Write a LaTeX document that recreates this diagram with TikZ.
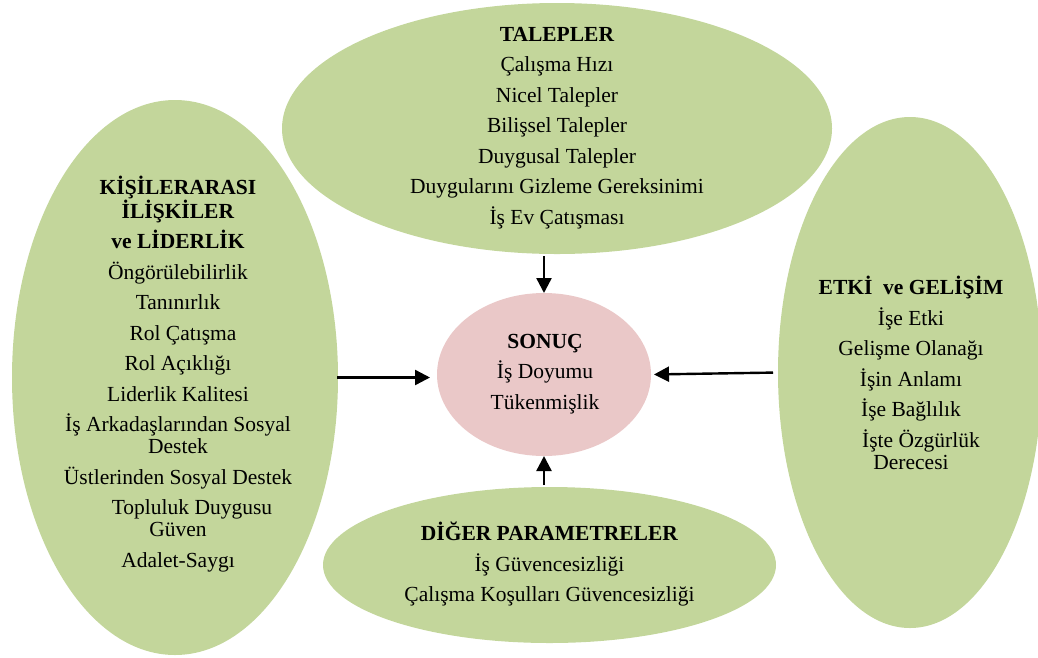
\documentclass[tikz,border=0pt]{standalone}
\usepackage{fontspec}
\setmainfont{Liberation Serif}
\usetikzlibrary{shapes.geometric,arrows.meta}
\definecolor{leaf}{HTML}{C3D69B}
\definecolor{rose}{HTML}{EAC8C8}
\begin{document}
\begin{tikzpicture}[x=1pt,y=-1pt,
  blob/.style={ellipse,fill=leaf,draw=none,inner sep=0pt,outer sep=0pt},
  txt/.style={align=center,font=\fontsize{21.5}{30.5}\selectfont,inner sep=0pt},
  link/.style={line width=2.4pt,-{Triangle[length=15pt,width=15pt]}}]
\useasboundingbox (0,0) rectangle (1038,657);
% shapes
\node[blob,minimum width=550pt,minimum height=251pt] (top) at (557,128.5) {};
\node[blob,minimum width=326pt,minimum height=555pt] (left) at (175,377.5) {};
\node[blob,minimum width=264pt,minimum height=511pt] (right) at (910,372.5) {};
\node[blob,minimum width=453pt,minimum height=156pt] (bottom) at (549.5,565) {};
\node[blob,fill=rose,minimum width=214pt,minimum height=163pt] (mid) at (544,374.5) {};
% texts
\node[txt] (toptext) at (557,128) {\textbf{TALEPLER}\\Çalışma Hızı\\Nicel Talepler\\Bilişsel Talepler\\Duygusal Talepler\\Duygularını Gizleme Gereksinimi\\İş Ev Çatışması};
\node[txt] (lefttext) at (178,374) {\textbf{KİŞİLERARASI}\\[-6.5pt]\textbf{İLİŞKİLER}\\\textbf{ve LİDERLİK}\\Öngörülebilirlik\\Tanınırlık\\\hspace*{10pt}Rol Çatışma\\Rol Açıklığı\\Liderlik Kalitesi\\İş Arkadaşlarından Sosyal\\[-8.5pt]Destek\\Üstlerinden Sosyal Destek\\\hspace*{28pt}Topluluk Duygusu\\[-8.5pt]Güven\\Adalet-Saygı};
\node[txt] (righttext) at (911,373) {\textbf{ETKİ\ \ ve GELİŞİM}\\İşe Etki\\Gelişme Olanağı\\İşin Anlamı\\İşe Bağlılık\\\hspace*{20pt}İşte Özgürlük\\[-8.5pt]Derecesi};
\node[txt] (midtext) at (545,374) {\textbf{SONUÇ}\\İş Doyumu\\Tükenmişlik};
\node[txt] (bottomtext) at (549.5,564) {\textbf{DİĞER PARAMETRELER}\\İş Güvencesizliği\\Çalışma Koşulları Güvencesizliği};
% connectors
\draw[link,shorten <=2pt] (top.south -| mid.north) -- (mid.north);
\draw[link,shorten <=2pt] (bottom.north -| mid.south) -- (mid.south);
\draw[link,shorten <=-1pt,shorten >=7pt] (left.east) -- (left.east -| mid.west);
\draw[link,shorten <=5pt,shorten >=3pt] (right.west) -- (mid.east);
\end{tikzpicture}
\end{document}
